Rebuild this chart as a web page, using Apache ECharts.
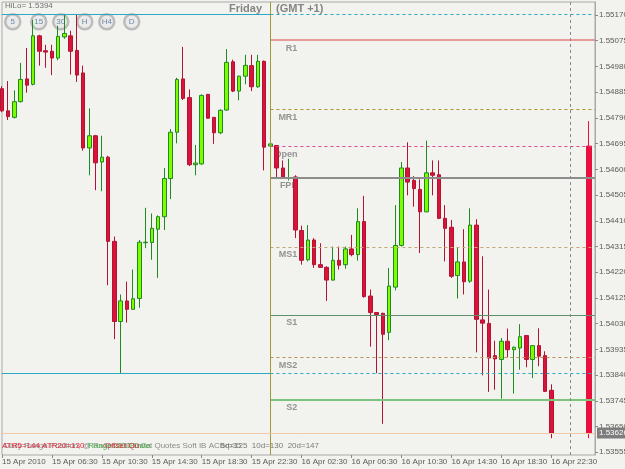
<!DOCTYPE html>
<html>
<head>
<meta charset="utf-8">
<script src="https://cdn.jsdelivr.net/npm/echarts@6.0.0/dist/echarts.min.js"></script>
<style>
html, body { margin: 0; padding: 0; background: #f2f2ee; }
#chart { width: 625px; height: 469px; }
</style>
</head>
<body>
<div id="chart"></div>
<script>
// EURUSD M30, 15-16 Apr 2010 (GMT +1)
const timeLabels = ['15 Apr 2010', '15 Apr 06:30', '15 Apr 10:30', '15 Apr 14:30', '15 Apr 18:30', '15 Apr 22:30',
    '16 Apr 02:30', '16 Apr 06:30', '16 Apr 10:30', '16 Apr 14:30', '16 Apr 18:30', '16 Apr 22:30'];

const opens = [1.54898, 1.54816, 1.54792, 1.54850, 1.54934, 1.54914, 1.55093, 1.55038, 1.55036, 1.55011,
    1.55089, 1.55093, 1.55039, 1.54956, 1.54679, 1.54724, 1.54627, 1.54645, 1.54334, 1.54038,
    1.54114, 1.54083, 1.54123, 1.54329, 1.54330, 1.54379, 1.54425, 1.54566, 1.54737, 1.54934,
    1.54865, 1.54617, 1.54620, 1.54877, 1.54792, 1.54735, 1.54819, 1.54997, 1.54889, 1.54944,
    1.54983, 1.54905, 1.54999, 1.54686, 1.54688, 1.54605, 1.54569, 1.54572, 1.54374, 1.54266,
    1.54339, 1.54248, 1.54238, 1.54191, 1.54264, 1.54248, 1.54306, 1.54285, 1.54407, 1.54132,
    1.54071, 1.54068, 1.53998, 1.54165, 1.54319, 1.54605, 1.54559, 1.54526, 1.54443, 1.54587,
    1.54580, 1.54419, 1.54386, 1.54208, 1.54258, 1.54187, 1.54394, 1.54044, 1.54031, 1.53912,
    1.53898, 1.53965, 1.53934, 1.53940, 1.53986, 1.53898, 1.53949, 1.53912, 1.53784];
const highs = [1.54907, 1.54926, 1.54892, 1.54993, 1.55048, 1.55152, 1.55097, 1.55060, 1.55060, 1.55130,
    1.55174, 1.55112, 1.55174, 1.54983, 1.54825, 1.54727, 1.54724, 1.54650, 1.54352, 1.54138,
    1.54185, 1.54230, 1.54339, 1.54458, 1.54437, 1.54430, 1.54605, 1.54749, 1.54938, 1.55052,
    1.54895, 1.54690, 1.54877, 1.54878, 1.54793, 1.54822, 1.55044, 1.55005, 1.54946, 1.55023,
    1.55023, 1.55023, 1.55002, 1.54778, 1.54690, 1.54633, 1.54639, 1.54578, 1.54392, 1.54394,
    1.54346, 1.54327, 1.54242, 1.54315, 1.54315, 1.54315, 1.54358, 1.54456, 1.54502, 1.54156,
    1.54071, 1.54071, 1.54236, 1.54468, 1.54627, 1.54700, 1.54575, 1.54563, 1.54706, 1.54633,
    1.54633, 1.54468, 1.54413, 1.54309, 1.54379, 1.54456, 1.54416, 1.54279, 1.54156, 1.53967,
    1.53977, 1.54012, 1.53945, 1.54028, 1.53987, 1.53950, 1.54013, 1.53928, 1.53806];
const lows = [1.54811, 1.54782, 1.54788, 1.54847, 1.54883, 1.54910, 1.54983, 1.54975, 1.54948, 1.55003,
    1.55082, 1.54950, 1.54923, 1.54669, 1.54578, 1.54523, 1.54519, 1.54172, 1.53973, 1.53847,
    1.54034, 1.54081, 1.54089, 1.54309, 1.54266, 1.54199, 1.54376, 1.54490, 1.54696, 1.54856,
    1.54612, 1.54578, 1.54617, 1.54787, 1.54694, 1.54730, 1.54816, 1.54885, 1.54855, 1.54914,
    1.54889, 1.54901, 1.54596, 1.54683, 1.54566, 1.54566, 1.54559, 1.54346, 1.54248, 1.54260,
    1.54236, 1.54236, 1.54114, 1.54189, 1.54230, 1.54233, 1.54279, 1.54263, 1.54126, 1.53945,
    1.53847, 1.53660, 1.53969, 1.54153, 1.54315, 1.54504, 1.54462, 1.54291, 1.54442, 1.54504,
    1.54416, 1.54260, 1.54199, 1.54123, 1.54138, 1.54181, 1.53924, 1.53839, 1.53778, 1.53786,
    1.53753, 1.53906, 1.53772, 1.53860, 1.53869, 1.53829, 1.53873, 1.53778, 1.53607];
const closes = [1.54816, 1.54795, 1.54850, 1.54932, 1.54911, 1.55093, 1.55036, 1.55033, 1.55011, 1.55091,
    1.55102, 1.55036, 1.54948, 1.54679, 1.54724, 1.54624, 1.54645, 1.54334, 1.54038, 1.54114,
    1.54083, 1.54122, 1.54331, 1.54331, 1.54382, 1.54425, 1.54566, 1.54737, 1.54932, 1.54862,
    1.54617, 1.54623, 1.54873, 1.54789, 1.54735, 1.54818, 1.54995, 1.54889, 1.54944, 1.54984,
    1.54905, 1.54999, 1.54682, 1.54694, 1.54605, 1.54569, 1.54569, 1.54376, 1.54264, 1.54339,
    1.54248, 1.54238, 1.54191, 1.54264, 1.54246, 1.54306, 1.54285, 1.54407, 1.54130, 1.54071,
    1.54064, 1.53991, 1.54169, 1.54319, 1.54605, 1.54553, 1.54529, 1.54443, 1.54587, 1.54578,
    1.54419, 1.54382, 1.54205, 1.54258, 1.54185, 1.54394, 1.54046, 1.54032, 1.53903, 1.53900,
    1.53965, 1.53934, 1.53943, 1.53982, 1.53898, 1.53949, 1.53910, 1.53780, 1.53626];

// today's daily bar: open, high, low, close
const dailyBar = [1.54686, 1.54778, 1.53607, 1.53626];

// fibonacci pivot levels for Friday
const pivotNames = ['R1', 'MR1', 'Open', 'FPP', 'MS1', 'S1', 'MS2', 'S2'];
const pivotValues = [1.55077, 1.54822, 1.54686, 1.54569, 1.54314, 1.54062, 1.53905, 1.53750];

const prevHigh = 1.55174;
const prevLow = 1.53847;
const bidPrice = 1.53626;

const yTicks = [1.55170, 1.55075, 1.54980, 1.54885, 1.54790, 1.54695, 1.54600, 1.54505, 1.54410,
    1.54315, 1.54220, 1.54125, 1.54030, 1.53935, 1.53840, 1.53745, 1.53650, 1.53555];

const buttonNames = ['5', '15', '30', 'H', 'H4', 'D'];

const yMin = 1.53545, yMax = 1.55218;

// 30 minute bars from 15 Apr 02:30, plus empty room on the right
const barCount = 96;
const dayIndex = 43;      // 16 Apr 00:00
const nextDayIndex = 91;  // 17 Apr 00:00
const dailyIndex = 94;
const categories = [];
for (let i = 0; i < barCount; i++) {
    const m = 150 + i * 30;
    const day = 15 + Math.floor(m / 1440);
    const hh = Math.floor((m % 1440) / 60), mm = m % 60;
    categories.push(day + ' Apr ' + String(hh).padStart(2, '0') + ':' + String(mm).padStart(2, '0'));
}

const candleData = opens.map((o, i) => [o, closes[i], lows[i], highs[i]]);
const dailyData = categories.map((c, i) => i === dailyIndex ? [dailyBar[0], dailyBar[3], dailyBar[2], dailyBar[1]] : '-');

const pivotStyles = {
    R1:   { color: '#e57c7c', type: 'solid', width: 1.5 },
    MR1:  { color: '#a8962c', type: [3, 3], width: 1 },
    Open: { color: '#e0468e', type: [3, 3], width: 1 },
    FPP:  { color: '#8c8c8c', type: 'solid', width: 2 },
    MS1:  { color: '#c4a676', type: [3, 3], width: 1 },
    S1:   { color: '#5f8f6c', type: 'solid', width: 1 },
    MS2:  { color: '#b4935c', type: [3, 3], width: 1 },
    S2:   { color: '#7cc47c', type: 'solid', width: 2 }
};

const seg = (from, to, v, style, label) => [
    { coord: [from, v], lineStyle: style, label: label || { show: false } },
    { coord: [to, v] }
];
const vline = (idx, style) => [
    { coord: [idx, yMax], lineStyle: style },
    { coord: [idx, yMin] }
];

const lines = [
    seg(0, dayIndex, prevHigh, { color: '#2aa8c6', type: 'solid', width: 1 }),
    seg(dayIndex, barCount - 1, prevHigh, { color: '#2aa8c6', type: [3, 3], width: 1 }),
    seg(0, dayIndex, prevLow, { color: '#2aa8c6', type: 'solid', width: 1 }),
    seg(dayIndex, barCount - 1, prevLow, { color: '#2aa8c6', type: [3, 3], width: 1 })
];
pivotNames.forEach((n, i) => lines.push(seg(dayIndex, barCount - 1, pivotValues[i], pivotStyles[n])));
lines.push(vline(dayIndex, { color: '#9c9a34', type: 'solid', width: 1 }));
lines.push(vline(nextDayIndex, { color: '#8a8a8a', type: [3, 3], width: 1 }));
lines.push(seg(0, barCount - 1, bidPrice, { color: '#f2c8a6', type: 'solid', width: 1 }, {
    show: true, position: 'end', distance: 2,
    formatter: bidPrice.toFixed(5),
    backgroundColor: '#7d7d7d', color: '#ffffff',
    fontFamily: 'Liberation Sans', fontSize: 8, padding: [2, 2, 1, 2]
}));

const labelFont = 'Liberation Sans';

const chart = echarts.init(document.getElementById('chart'));

const buttonGraphics = buttonNames.map((name, i) => ({
    type: 'group',
    left: [4, 30, 52, 76, 98, 123][i],
    top: 13,
    children: [
        { type: 'circle', shape: { cx: 8, cy: 8, r: 7.5 }, style: { fill: '#ebebeb', stroke: '#bcbcbc', lineWidth: 2.5 } },
        { type: 'text', x: 8, y: 8, style: { text: name, fill: '#6b8ba4', font: '8px Liberation Sans', align: 'center', verticalAlign: 'middle' } }
    ]
}));

chart.setOption({
    backgroundColor: '#f2f2ee',
    animation: false,
    grid: {
        left: 2, right: 30, top: 2, bottom: 14,
        outerBoundsMode: 'none', containLabel: false,
        show: true, borderColor: '#a9a9a9', borderWidth: 1
    },
    xAxis: {
        type: 'category',
        data: categories,
        boundaryGap: false,
        axisLine: { show: false },
        axisTick: { show: true, interval: 7, length: 3, lineStyle: { color: '#8a8a8a' } },
        axisLabel: {
            interval: 7, align: 'left', margin: 3,
            fontFamily: labelFont, fontSize: 8, color: '#5a5a5a',
            formatter: (v, i) => timeLabels[i / 8] || ''
        },
        splitLine: { show: false }
    },
    yAxis: {
        type: 'value',
        position: 'right',
        min: yMin,
        max: yMax,
        axisLine: { show: true, lineStyle: { color: '#a9a9a9' } },
        axisTick: { show: true, length: 3, customValues: yTicks, lineStyle: { color: '#8a8a8a' } },
        axisLabel: {
            customValues: yTicks, margin: 4, showMinLabel: true, showMaxLabel: true,
            fontFamily: labelFont, fontSize: 8, color: '#5a5a5a',
            formatter: v => v.toFixed(5)
        },
        splitLine: { show: false }
    },
    series: [
        {
            name: 'pivot labels',
            type: 'scatter',
            symbolSize: 0,
            z: 1,
            silent: true,
            data: pivotNames.map((n, i) => ({ name: n, value: [dayIndex + 4, pivotValues[i]] })),
            label: {
                show: true, formatter: '{b}', position: 'inside', align: 'right', offset: [2, 8],
                fontFamily: labelFont, fontSize: 9, fontWeight: 'bold', color: '#7a7a7a'
            }
        },
        {
            name: 'EURUSD,M30',
            type: 'candlestick',
            data: candleData,
            barWidth: 4,
            z: 3,
            itemStyle: {
                color: '#7dfc00', color0: '#d9143a',
                borderColor: '#1f8a1f', borderColor0: '#b41232', borderWidth: 1
            },
            markLine: {
                silent: true,
                symbol: ['none', 'none'],
                label: { show: false },
                data: lines
            }
        },
        {
            name: 'Daily',
            type: 'candlestick',
            data: dailyData,
            barWidth: 6,
            z: 3,
            itemStyle: {
                color: '#7dfc00', color0: '#ea0f3c',
                borderColor: '#1f8a1f', borderColor0: '#ea0f3c', borderWidth: 1
            }
        }
    ],
    graphic: [
        { type: 'text', left: 5, top: 2, style: { text: 'HiLo= 1.5394', fill: '#707070', font: '8px Liberation Sans' } },
        { type: 'text', left: 229, top: 3, style: { text: 'Friday', fill: '#858585', font: 'bold 11px Liberation Sans' } },
        { type: 'text', left: 276, top: 3, style: { text: '(GMT +1)', fill: '#858585', font: 'bold 11px Liberation Sans' } },
        ...buttonGraphics,
        { type: 'text', left: 4, top: 442, style: { text: 'Daily Range Position, @ Ra0pt 2003m0et Quotes Soft IB ACBrp35', fill: '#8a8a8a', font: '8px Liberation Sans' } },
        { type: 'text', left: 88, top: 442, style: { text: 'Range 2010 Data', fill: '#4caf4c', font: '8px Liberation Sans' } },
        { type: 'text', left: 105, top: 442, style: { text: 'Offset Qu', fill: '#e03040', font: '8px Liberation Sans' } },
        { type: 'text', left: 2, top: 442, style: { text: 'ATR5=144 ATR20=130', fill: '#e8283c', font: '8px Liberation Sans' } },
        { type: 'text', right: 306, top: 442, style: { text: '5d=125  10d=130  20d=147', fill: '#7a7a7a', font: '8px Liberation Sans' } }
    ]
});
</script>
</body>
</html>
